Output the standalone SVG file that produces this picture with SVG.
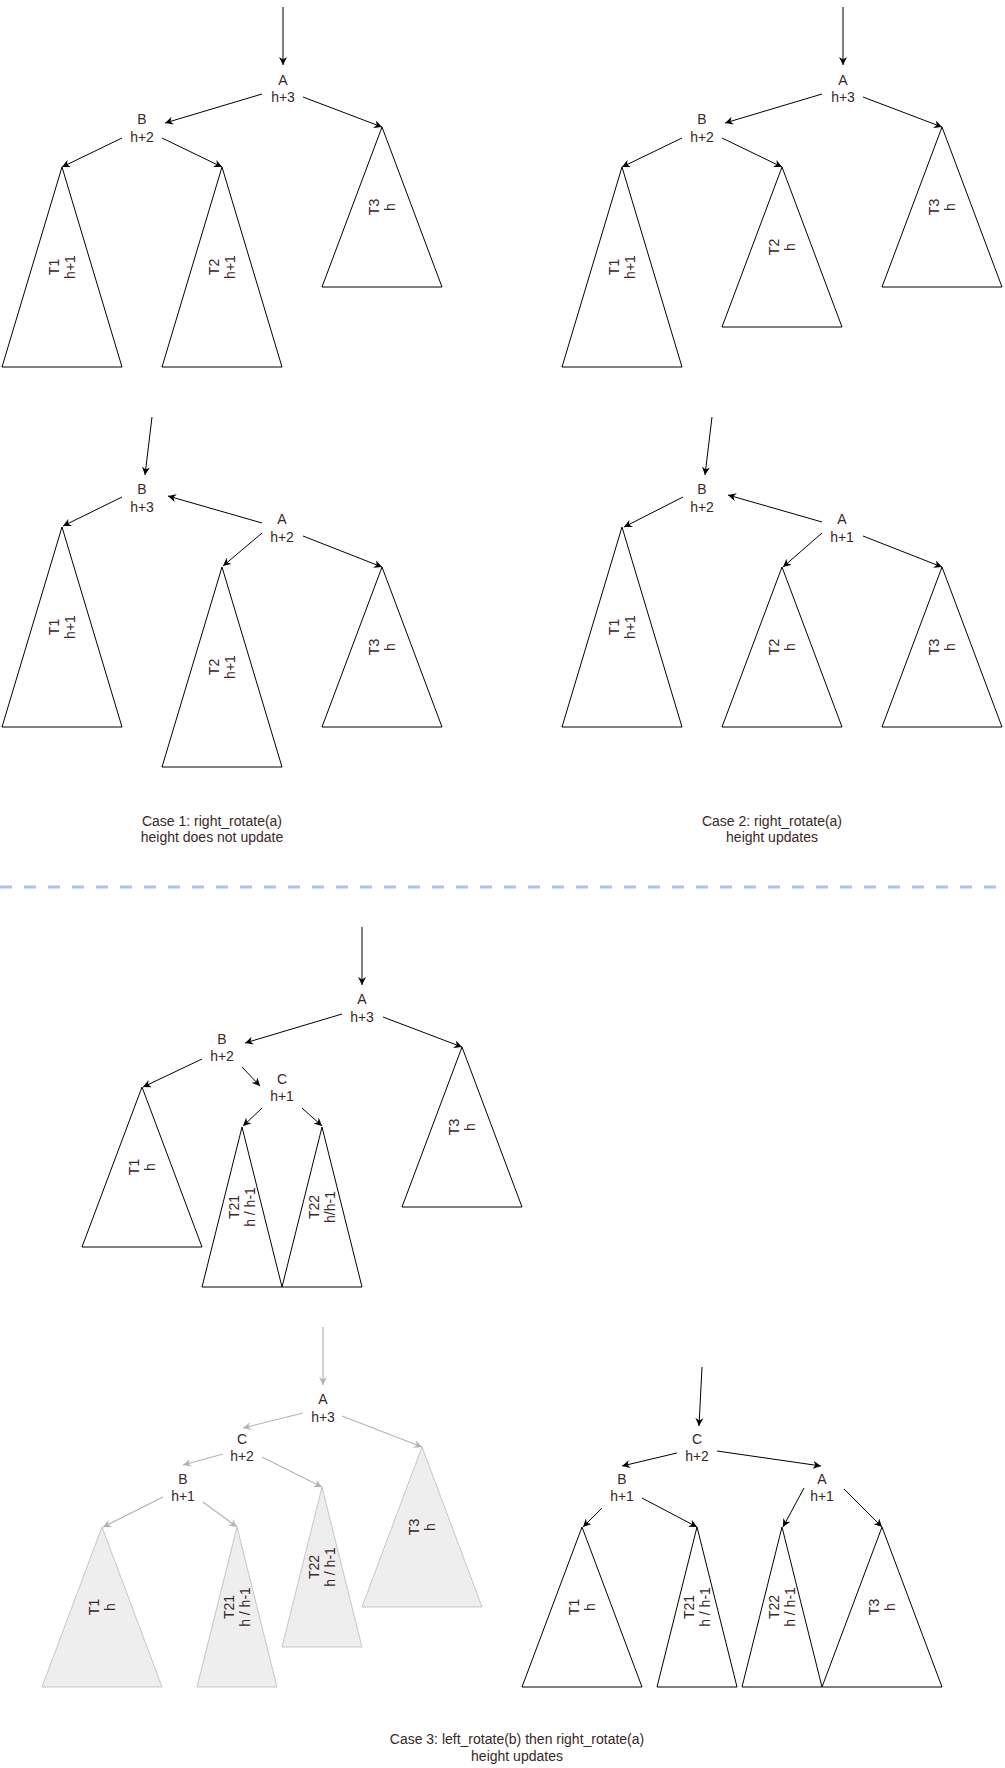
<svg xmlns="http://www.w3.org/2000/svg" width="1005" height="1768" viewBox="0 0 1005 1768">
<style>
.lbl{font-family:"Liberation Sans",Arial,sans-serif;font-size:14px;fill:#3a2626;text-anchor:middle}
.tri{fill:#ffffff;stroke:#000000;stroke-width:1}
.gtri{fill:#eeeeee;stroke:#c6c6c6;stroke-width:1}
.edge{stroke:#000000;stroke-width:1;fill:none;marker-end:url(#arr)}
.gedge{stroke:#b3b3b3;stroke-width:1.2;fill:none;marker-end:url(#garr)}
.sep{stroke:#a9c4eb;stroke-width:3;stroke-dasharray:12 12;fill:none}
</style>
<defs>
<marker id="arr" viewBox="0 0 10 10" markerUnits="userSpaceOnUse" markerWidth="8" markerHeight="8" refX="10" refY="5" orient="auto">
<path d="M0,0 L10,5 L0,10 L3,5 z" fill="#000000"/>
</marker>
<marker id="garr" viewBox="0 0 10 10" markerUnits="userSpaceOnUse" markerWidth="8" markerHeight="8" refX="10" refY="5" orient="auto">
<path d="M0,0 L10,5 L0,10 L3,5 z" fill="#b3b3b3"/>
</marker>
</defs>
<rect width="1005" height="1768" fill="#ffffff"/>

<g id="connectors">
<!-- Panel 1 -->
<line class="edge" x1="283" y1="7" x2="283" y2="65"/>
<line class="edge" x1="262" y1="94" x2="165" y2="123"/>
<line class="edge" x1="303" y1="97" x2="382" y2="127"/>
<line class="edge" x1="122" y1="138" x2="62" y2="167"/>
<line class="edge" x1="162" y1="138" x2="222" y2="167"/>
<!-- Panel 2 -->
<line class="edge" x1="843" y1="7" x2="843" y2="65"/>
<line class="edge" x1="822" y1="94" x2="725" y2="123"/>
<line class="edge" x1="863" y1="97" x2="942" y2="127"/>
<line class="edge" x1="682" y1="138" x2="622" y2="167"/>
<line class="edge" x1="722" y1="138" x2="782" y2="167"/>
<!-- Panel 3 -->
<line class="edge" x1="152" y1="417" x2="145" y2="475"/>
<line class="edge" x1="262" y1="523" x2="168" y2="496"/>
<line class="edge" x1="122" y1="497" x2="63" y2="526"/>
<line class="edge" x1="262" y1="533" x2="223" y2="566"/>
<line class="edge" x1="303" y1="536" x2="382" y2="567"/>
<!-- Panel 4 -->
<line class="edge" x1="712" y1="417" x2="705" y2="475"/>
<line class="edge" x1="822" y1="522" x2="728" y2="495"/>
<line class="edge" x1="683" y1="497" x2="624" y2="527"/>
<line class="edge" x1="822" y1="533" x2="783" y2="567"/>
<line class="edge" x1="863" y1="536" x2="942" y2="567"/>
<!-- Panel 5 -->
<line class="edge" x1="362" y1="927" x2="362" y2="985"/>
<line class="edge" x1="342" y1="1014" x2="245" y2="1043"/>
<line class="edge" x1="383" y1="1017" x2="462" y2="1047"/>
<line class="edge" x1="202" y1="1059" x2="143" y2="1087"/>
<line class="edge" x1="242" y1="1067" x2="260" y2="1086"/>
<line class="edge" x1="262" y1="1108" x2="243" y2="1126"/>
<line class="edge" x1="302" y1="1108" x2="322" y2="1126"/>
<!-- Panel 6 (gray) -->
<line class="gedge" x1="323" y1="1327" x2="323" y2="1385"/>
<line class="gedge" x1="303" y1="1413" x2="243" y2="1428"/>
<line class="gedge" x1="342" y1="1416" x2="422" y2="1447"/>
<line class="gedge" x1="223" y1="1454" x2="183" y2="1465"/>
<line class="gedge" x1="262" y1="1457" x2="322" y2="1487"/>
<line class="gedge" x1="163" y1="1497" x2="103" y2="1527"/>
<line class="gedge" x1="203" y1="1502" x2="237" y2="1527"/>
<!-- Panel 7 -->
<line class="edge" x1="702" y1="1367" x2="699" y2="1426"/>
<line class="edge" x1="677" y1="1453" x2="622" y2="1466"/>
<line class="edge" x1="717" y1="1451" x2="821" y2="1466"/>
<line class="edge" x1="602" y1="1508" x2="583" y2="1527"/>
<line class="edge" x1="642" y1="1498" x2="697" y2="1527"/>
<line class="edge" x1="804" y1="1488" x2="783" y2="1527"/>
<line class="edge" x1="844" y1="1489" x2="882" y2="1527"/>
</g>

<line id="separator" class="sep" x1="0" y1="887" x2="1005" y2="887"/>

<!-- Panel 1 -->
<g id="p1-A"><text class="lbl" x="283" y="85">A</text><text class="lbl" x="283" y="102">h+3</text></g>
<g id="p1-B"><text class="lbl" x="142" y="124">B</text><text class="lbl" x="142" y="142">h+2</text></g>
<g id="p1-T1"><polygon class="tri" points="62,167 2,367 122,367"/><text class="lbl" transform="translate(62,267) rotate(-90)"><tspan x="0" y="-3">T1</tspan><tspan x="0" y="13">h+1</tspan></text></g>
<g id="p1-T2"><polygon class="tri" points="222,167 162,367 282,367"/><text class="lbl" transform="translate(222,267) rotate(-90)"><tspan x="0" y="-3">T2</tspan><tspan x="0" y="13">h+1</tspan></text></g>
<g id="p1-T3"><polygon class="tri" points="382,127 322,287 442,287"/><text class="lbl" transform="translate(382,207) rotate(-90)"><tspan x="0" y="-3">T3</tspan><tspan x="0" y="13">h</tspan></text></g>

<!-- Panel 2 -->
<g id="p2-A"><text class="lbl" x="843" y="85">A</text><text class="lbl" x="843" y="102">h+3</text></g>
<g id="p2-B"><text class="lbl" x="702" y="124">B</text><text class="lbl" x="702" y="142">h+2</text></g>
<g id="p2-T1"><polygon class="tri" points="622,167 562,367 682,367"/><text class="lbl" transform="translate(622,267) rotate(-90)"><tspan x="0" y="-3">T1</tspan><tspan x="0" y="13">h+1</tspan></text></g>
<g id="p2-T2"><polygon class="tri" points="782,167 722,327 842,327"/><text class="lbl" transform="translate(782,247) rotate(-90)"><tspan x="0" y="-3">T2</tspan><tspan x="0" y="13">h</tspan></text></g>
<g id="p2-T3"><polygon class="tri" points="942,127 882,287 1002,287"/><text class="lbl" transform="translate(942,207) rotate(-90)"><tspan x="0" y="-3">T3</tspan><tspan x="0" y="13">h</tspan></text></g>

<!-- Panel 3 -->
<g id="p3-B"><text class="lbl" x="142" y="494">B</text><text class="lbl" x="142" y="512">h+3</text></g>
<g id="p3-A"><text class="lbl" x="282" y="524">A</text><text class="lbl" x="282" y="542">h+2</text></g>
<g id="p3-T1"><polygon class="tri" points="62,527 2,727 122,727"/><text class="lbl" transform="translate(62,627) rotate(-90)"><tspan x="0" y="-3">T1</tspan><tspan x="0" y="13">h+1</tspan></text></g>
<g id="p3-T2"><polygon class="tri" points="222,567 162,767 282,767"/><text class="lbl" transform="translate(222,667) rotate(-90)"><tspan x="0" y="-3">T2</tspan><tspan x="0" y="13">h+1</tspan></text></g>
<g id="p3-T3"><polygon class="tri" points="382,567 322,727 442,727"/><text class="lbl" transform="translate(382,647) rotate(-90)"><tspan x="0" y="-3">T3</tspan><tspan x="0" y="13">h</tspan></text></g>
<g id="caption1"><text class="lbl" x="212" y="826">Case 1: right_rotate(a)</text><text class="lbl" x="212" y="842">height does not update</text></g>

<!-- Panel 4 -->
<g id="p4-B"><text class="lbl" x="702" y="494">B</text><text class="lbl" x="702" y="512">h+2</text></g>
<g id="p4-A"><text class="lbl" x="842" y="524">A</text><text class="lbl" x="842" y="542">h+1</text></g>
<g id="p4-T1"><polygon class="tri" points="622,527 562,727 682,727"/><text class="lbl" transform="translate(622,627) rotate(-90)"><tspan x="0" y="-3">T1</tspan><tspan x="0" y="13">h+1</tspan></text></g>
<g id="p4-T2"><polygon class="tri" points="782,567 722,727 842,727"/><text class="lbl" transform="translate(782,647) rotate(-90)"><tspan x="0" y="-3">T2</tspan><tspan x="0" y="13">h</tspan></text></g>
<g id="p4-T3"><polygon class="tri" points="942,567 882,727 1002,727"/><text class="lbl" transform="translate(942,647) rotate(-90)"><tspan x="0" y="-3">T3</tspan><tspan x="0" y="13">h</tspan></text></g>
<g id="caption2"><text class="lbl" x="772" y="826">Case 2: right_rotate(a)</text><text class="lbl" x="772" y="842">height updates</text></g>

<!-- Panel 5 -->
<g id="p5-A"><text class="lbl" x="362" y="1004">A</text><text class="lbl" x="362" y="1022">h+3</text></g>
<g id="p5-B"><text class="lbl" x="222" y="1044">B</text><text class="lbl" x="222" y="1061">h+2</text></g>
<g id="p5-C"><text class="lbl" x="282" y="1084">C</text><text class="lbl" x="282" y="1101">h+1</text></g>
<g id="p5-T1"><polygon class="tri" points="142,1087 82,1247 202,1247"/><text class="lbl" transform="translate(142,1167) rotate(-90)"><tspan x="0" y="-3">T1</tspan><tspan x="0" y="13">h</tspan></text></g>
<g id="p5-T21"><polygon class="tri" points="242,1127 202,1287 282,1287"/><text class="lbl" transform="translate(242,1207) rotate(-90)"><tspan x="0" y="-3">T21</tspan><tspan x="0" y="13">h / h-1</tspan></text></g>
<g id="p5-T22"><polygon class="tri" points="322,1127 282,1287 362,1287"/><text class="lbl" transform="translate(322,1207) rotate(-90)"><tspan x="0" y="-3">T22</tspan><tspan x="0" y="13">h/h-1</tspan></text></g>
<g id="p5-T3"><polygon class="tri" points="462,1047 402,1207 522,1207"/><text class="lbl" transform="translate(462,1127) rotate(-90)"><tspan x="0" y="-3">T3</tspan><tspan x="0" y="13">h</tspan></text></g>

<!-- Panel 6 (gray, intermediate) -->
<g id="p6-A"><text class="lbl" x="323" y="1404">A</text><text class="lbl" x="323" y="1422">h+3</text></g>
<g id="p6-C"><text class="lbl" x="242" y="1444">C</text><text class="lbl" x="242" y="1461">h+2</text></g>
<g id="p6-B"><text class="lbl" x="183" y="1484">B</text><text class="lbl" x="183" y="1501">h+1</text></g>
<g id="p6-T1"><polygon class="gtri" points="102,1527 42,1687 162,1687"/><text class="lbl" transform="translate(102,1607) rotate(-90)"><tspan x="0" y="-3">T1</tspan><tspan x="0" y="13">h</tspan></text></g>
<g id="p6-T21"><polygon class="gtri" points="237,1527 197,1687 277,1687"/><text class="lbl" transform="translate(237,1607) rotate(-90)"><tspan x="0" y="-3">T21</tspan><tspan x="0" y="13">h / h-1</tspan></text></g>
<g id="p6-T22"><polygon class="gtri" points="322,1487 282,1647 362,1647"/><text class="lbl" transform="translate(322,1567) rotate(-90)"><tspan x="0" y="-3">T22</tspan><tspan x="0" y="13">h / h-1</tspan></text></g>
<g id="p6-T3"><polygon class="gtri" points="422,1447 362,1607 482,1607"/><text class="lbl" transform="translate(422,1527) rotate(-90)"><tspan x="0" y="-3">T3</tspan><tspan x="0" y="13">h</tspan></text></g>

<!-- Panel 7 -->
<g id="p7-C"><text class="lbl" x="697" y="1444">C</text><text class="lbl" x="697" y="1461">h+2</text></g>
<g id="p7-B"><text class="lbl" x="622" y="1484">B</text><text class="lbl" x="622" y="1501">h+1</text></g>
<g id="p7-A"><text class="lbl" x="822" y="1484">A</text><text class="lbl" x="822" y="1501">h+1</text></g>
<g id="p7-T1"><polygon class="tri" points="582,1527 522,1687 642,1687"/><text class="lbl" transform="translate(582,1607) rotate(-90)"><tspan x="0" y="-3">T1</tspan><tspan x="0" y="13">h</tspan></text></g>
<g id="p7-T21"><polygon class="tri" points="697,1527 657,1687 737,1687"/><text class="lbl" transform="translate(697,1607) rotate(-90)"><tspan x="0" y="-3">T21</tspan><tspan x="0" y="13">h / h-1</tspan></text></g>
<g id="p7-T22"><polygon class="tri" points="782,1527 742,1687 822,1687"/><text class="lbl" transform="translate(782,1607) rotate(-90)"><tspan x="0" y="-3">T22</tspan><tspan x="0" y="13">h / h-1</tspan></text></g>
<g id="p7-T3"><polygon class="tri" points="882,1527 822,1687 942,1687"/><text class="lbl" transform="translate(882,1607) rotate(-90)"><tspan x="0" y="-3">T3</tspan><tspan x="0" y="13">h</tspan></text></g>
<g id="caption3"><text class="lbl" x="517" y="1744">Case 3: left_rotate(b) then right_rotate(a)</text><text class="lbl" x="517" y="1761">height updates</text></g>
</svg>
